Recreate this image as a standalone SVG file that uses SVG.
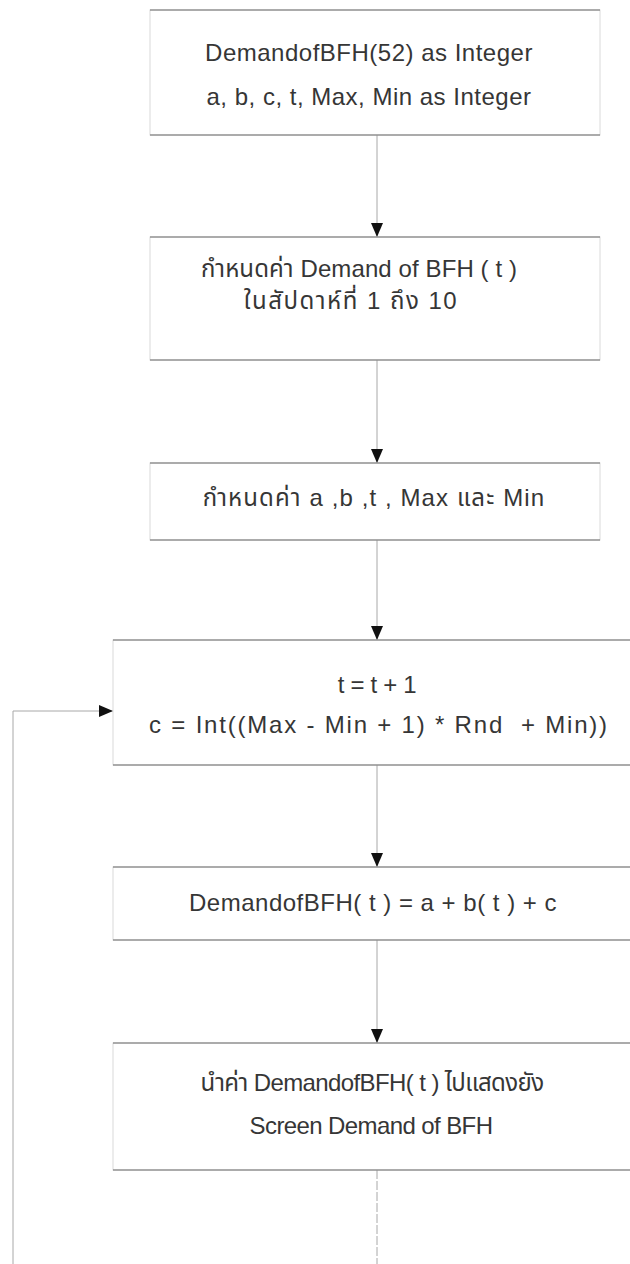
<svg xmlns="http://www.w3.org/2000/svg" width="630" height="1264" viewBox="0 0 630 1264">
<style>
.box{fill:#fff;stroke:#dadada;stroke-width:1}
.edge{stroke:#6a6a6a;stroke-width:1.2;fill:none}
.t{font-family:"Liberation Sans","Noto Sans Thai","Noto Sans","DejaVu Sans",sans-serif;font-size:24px;letter-spacing:0.5px;fill:#363636;text-anchor:middle}
.conn{stroke:#a8a8a8;stroke-width:1;fill:none}
.dash{stroke-dasharray:9 2}
</style>
<defs>
<marker id="ah" viewBox="0 0 14 12" refX="14" refY="6" markerWidth="14" markerHeight="12" markerUnits="userSpaceOnUse" orient="auto">
<path d="M0,0 L14,6 L0,12 Z" fill="#111"/>
</marker>
</defs>
<rect width="630" height="1264" fill="#fff"/>
<g id="connectors">
<line class="conn" x1="377" y1="135" x2="377" y2="237" marker-end="url(#ah)"/>
<line class="conn" x1="377" y1="360" x2="377" y2="463" marker-end="url(#ah)"/>
<line class="conn" x1="377" y1="540" x2="377" y2="640" marker-end="url(#ah)"/>
<line class="conn" x1="377" y1="765" x2="377" y2="867" marker-end="url(#ah)"/>
<line class="conn" x1="377" y1="940" x2="377" y2="1043" marker-end="url(#ah)"/>
<line class="conn dash" x1="377" y1="1170" x2="377" y2="1264"/>
<path class="conn" d="M13,1264 V711 H113" marker-end="url(#ah)"/>
</g>
<g id="n1">
<rect class="box" x="150" y="10" width="450" height="125"/>
<line class="edge" x1="150" y1="10" x2="600" y2="10"/>
<line class="edge" x1="150" y1="135" x2="600" y2="135"/>
<text class="t" x="369" y="61">DemandofBFH(52) as Integer</text>
<text class="t" x="369" y="105">a, b, c, t, Max, Min as Integer</text>
</g>
<g id="n2">
<rect class="box" x="150" y="237" width="450" height="123"/>
<line class="edge" x1="150" y1="237" x2="600" y2="237"/>
<line class="edge" x1="150" y1="360" x2="600" y2="360"/>
<text class="t" x="359" y="277" style="letter-spacing:0.1px">กำหนดค่า Demand of BFH ( t )</text>
<text class="t" x="351" y="309" style="letter-spacing:1.5px">ในสัปดาห์ที่ 1 ถึง 10</text>
</g>
<g id="n3">
<rect class="box" x="150" y="463" width="450" height="77"/>
<line class="edge" x1="150" y1="463" x2="600" y2="463"/>
<line class="edge" x1="150" y1="540" x2="600" y2="540"/>
<text class="t" x="374" y="506" style="letter-spacing:1.1px">กำหนดค่า a ,b ,t , Max และ Min</text>
</g>
<g id="n4">
<rect class="box" x="113" y="640" width="530" height="125"/>
<line class="edge" x1="113" y1="640" x2="630" y2="640"/>
<line class="edge" x1="113" y1="765" x2="630" y2="765"/>
<text class="t" x="377" y="693" style="letter-spacing:-0.3px">t = t + 1</text>
<text class="t" x="379" y="733" style="letter-spacing:1.8px" xml:space="preserve">c = Int((Max - Min + 1) * Rnd  + Min))</text>
</g>
<g id="n5">
<rect class="box" x="113" y="867" width="530" height="73"/>
<line class="edge" x1="113" y1="867" x2="630" y2="867"/>
<line class="edge" x1="113" y1="940" x2="630" y2="940"/>
<text class="t" x="373" y="911">DemandofBFH( t ) = a + b( t ) + c</text>
</g>
<g id="n6">
<rect class="box" x="113" y="1043" width="530" height="127"/>
<line class="edge" x1="113" y1="1043" x2="630" y2="1043"/>
<line class="edge" x1="113" y1="1170" x2="630" y2="1170"/>
<text class="t" x="372" y="1091" style="letter-spacing:-0.6px">นำค่า DemandofBFH( t ) ไปแสดงยัง</text>
<text class="t" x="371" y="1134" style="letter-spacing:-0.6px">Screen Demand of BFH</text>
</g>
</svg>
